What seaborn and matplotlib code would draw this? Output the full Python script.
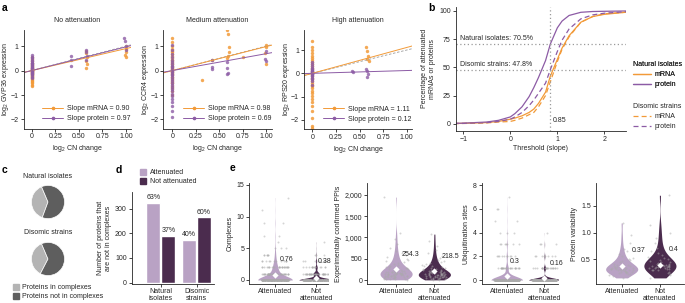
import numpy as np
import pandas as pd
import seaborn as sns
import matplotlib.pyplot as plt
from matplotlib.lines import Line2D
from matplotlib.patches import Patch

# ---------------- data ----------------
# a : expression vs copy number change (points at CN change 0, then the few aneuploid strains)
gvp_mrna_y0 = [-0.62, -0.58, -0.52, -0.47, -0.42, -0.38, -0.34, -0.3, -0.27, -0.24, -0.21, -0.18, -0.15, -0.12,
               -0.1, -0.07, -0.05, -0.03, -0.01, 0.01, 0.03, 0.05, 0.08, 0.11, 0.14, 0.18, 0.22, 0.27, 0.33,
               0.4, 0.48, 0.55]
gvp_prot_y0 = [-0.32, -0.25, -0.2, -0.15, -0.11, -0.08, -0.05, -0.02, 0.0, 0.03, 0.06, 0.09, 0.12, 0.15, 0.18,
               0.21, 0.25, 0.29, 0.33, 0.38, 0.44, 0.5, 0.57, 0.65]
gvp_mrna_x = [0.58, 0.58, 0.59, 0.58, 0.59, 0.58, 1.0, 1.0, 1.0, 0.99, 1.0]
gvp_mrna_y = [0.82, 0.7, 0.55, 0.4, 0.25, 0.12, 1.0, 0.9, 0.78, 0.65, 0.56]
gvp_prot_x = [0.42, 0.42, 0.42, 0.58, 0.58, 0.59, 0.58, 0.98, 0.99, 1.0, 1.0]
gvp_prot_y = [0.6, 0.42, 0.2, 0.85, 0.75, 0.6, 0.45, 1.33, 1.22, 1.0, 0.85]

ccr_mrna_y0 = [-1.0, -0.85, -0.72, -0.62, -0.52, -0.45, -0.38, -0.32, -0.26, -0.2, -0.15, -0.1, -0.05, 0.0,
               0.05, 0.1, 0.15, 0.2, 0.26, 0.32, 0.38, 0.45, 0.52, 0.6, 0.68, 0.75, 0.82, 0.9, 1.0, 1.15, 1.35]
ccr_prot_y0 = [-1.9, -1.65, -1.45, -1.3, -1.18, -1.05, -0.95, -0.85, -0.75, -0.66, -0.58, -0.5, -0.42, -0.35,
               -0.28, -0.2, -0.13, -0.06, 0.0, 0.06, 0.13, 0.2, 0.28, 0.36, 0.45, 0.55, 0.68, 0.85, 1.05]
ccr_mrna_x = [0.32, 0.42, 0.58, 0.59, 0.6, 0.6, 0.59, 0.58, 0.75, 1.0, 1.0, 0.99, 1.0]
ccr_mrna_y = [-0.37, 0.45, 1.65, 1.5, 0.98, 0.75, 0.6, 0.5, 0.55, 1.05, 0.98, 0.7, 0.25]
ccr_prot_x = [0.42, 0.42, 0.42, 0.58, 0.58, 0.59, 0.58, 1.0, 0.99, 1.0]
ccr_prot_y = [0.42, 0.15, 0.05, 0.35, 0.12, -0.08, -0.12, 0.82, 0.48, 0.38]

rps_mrna_y0 = [-2.35, -2.25, -1.9, -1.6, -1.4, -1.25, -1.1, -0.98, -0.86, -0.75, -0.65, -0.56, -0.48, -0.4,
               -0.32, -0.25, -0.18, -0.11, -0.05, 0.0, 0.06, 0.12, 0.18, 0.25, 0.32, 0.4, 0.48, 0.56, 0.65,
               0.75, 0.86, 1.0, 1.15, 1.4]
rps_prot_y0 = [-0.5, -0.35, -0.25, -0.18, -0.12, -0.08, -0.05, -0.02, 0.0, 0.02, 0.05, 0.08, 0.11, 0.15, 0.2,
               0.25, 0.32, 0.4, 0.5]
rps_mrna_x = [0.57, 0.58, 0.59, 0.58, 0.6]
rps_mrna_y = [1.15, 0.95, 0.75, 0.62, 0.55]
rps_prot_x = [0.42, 0.43, 0.57, 0.58, 0.59, 0.58]
rps_prot_y = [0.1, 0.05, 0.2, 0.1, -0.05, -0.15]

a_titles = ['No attenuation', 'Medium attenuation', 'High attenuation']
a_genes = ['GVP36', 'CCR4', 'RPS20']
slopes_mrna = [0.90, 0.98, 1.11]
slopes_prot = [0.97, 0.69, 0.12]

# b : cumulative share of attenuated mRNAs / proteins by slope threshold
b_thr = [-1.2, -1.0, -0.5, -0.25, 0.0, 0.1, 0.25, 0.4, 0.5, 0.6, 0.75, 0.85, 1.0, 1.1, 1.25, 1.5, 1.75, 2.0, 2.5]
nat_prot = [0.3, 0.5, 1.5, 3, 6, 9, 15, 24, 32, 41, 56, 70.5, 85, 91, 96, 98.8, 99.5, 99.7, 100]
nat_mrna = [0.2, 0.3, 1, 2, 4, 5, 7, 10, 13, 18, 28, 42, 57, 67, 78, 90, 95, 97, 99]
dis_prot = [0.2, 0.3, 1, 2, 4, 6, 10, 16, 21, 27, 36, 47.8, 64, 74, 84, 93, 96.5, 98, 99.5]
dis_mrna = [0.1, 0.2, 0.7, 1.5, 2, 3, 5, 8, 10, 15, 25, 37, 55, 66, 77, 90, 95, 97.5, 99]
b_threshold = 0.85
b_nat_pct = 70.5
b_dis_pct = 47.8

# c : share of proteins in complexes
pie_groups = ['Natural isolates', 'Disomic strains']
pie_in = [38, 36]
pie_not = [62, 64]

# d : proteins not in complexes
d_groups = ['Natural\nisolates', 'Disomic\nstrains']
d_att = [325, 175]
d_not = [190, 265]
d_pct_att = ['63%', '40%']
d_pct_not = ['37%', '60%']

# e : protein features
status = ['Attenuated', 'Not\nattenuated']
cx_vals_att = [0, 1, 2, 3, 4, 5, 6, 7, 9, 11, 13]
cx_n_att = [200, 40, 25, 12, 6, 3, 1, 2, 2, 1, 1]
cx_vals_not = [0, 1, 2, 3, 4, 5, 6]
cx_n_not = [220, 38, 14, 7, 3, 1, 1]
ppi_att = [5, 12, 20, 28, 35, 42, 50, 58, 65, 72, 80, 88, 95, 102, 110, 118, 125, 132, 140, 148, 155, 162,
           170, 178, 185, 195, 205, 215, 225, 235, 248, 260, 272, 285, 300, 315, 330, 350, 370, 390, 415,
           440, 470, 500, 540, 580, 630, 690, 760, 850, 960, 1100, 1950, 30, 60, 85, 100, 115, 130, 145,
           160, 175, 190, 210, 230, 90, 120, 150, 180, 75, 105, 135, 165]
ppi_not = [3, 10, 18, 25, 32, 40, 48, 55, 62, 70, 78, 85, 92, 100, 108, 115, 122, 130, 138, 145, 152, 160,
           168, 175, 183, 190, 198, 206, 215, 224, 233, 243, 254, 266, 278, 290, 305, 320, 338, 356, 375,
           398, 420, 450, 480, 520, 570, 630, 700, 800, 920, 1080, 20, 45, 65, 80, 95, 110, 125, 140, 155,
           170, 185, 200, 60, 90, 120, 150]
ub_vals_att = [0, 1, 2, 3, 4, 5, 6, 7]
ub_n_att = [290, 25, 10, 7, 3, 2, 2, 1]
ub_vals_not = [0, 1, 2, 3, 4]
ub_n_not = [290, 22, 8, 3, 1]
var_att = [0.15, 0.18, 0.2, 0.22, 0.23, 0.24, 0.25, 0.26, 0.27, 0.28, 0.28, 0.29, 0.3, 0.3, 0.31, 0.31, 0.32,
           0.32, 0.33, 0.33, 0.34, 0.35, 0.35, 0.36, 0.37, 0.38, 0.39, 0.4, 0.41, 0.42, 0.44, 0.46, 0.48,
           0.5, 0.53, 0.56, 0.6, 0.65, 0.7, 0.8, 0.95, 1.18, 0.26, 0.27, 0.29, 0.3, 0.31, 0.33]
var_not = [0.15, 0.2, 0.23, 0.25, 0.27, 0.29, 0.3, 0.31, 0.32, 0.33, 0.34, 0.35, 0.35, 0.36, 0.37, 0.37, 0.38,
           0.39, 0.4, 0.4, 0.41, 0.42, 0.43, 0.44, 0.45, 0.46, 0.48, 0.5, 0.52, 0.55, 0.58, 0.62, 0.66,
           0.72, 0.8, 0.9, 1.0, 1.15, 1.7, 0.3, 0.33, 0.36, 0.38, 0.42]
e_means = [[0.76, 0.38], [254.3, 218.5], [0.3, 0.16], [0.37, 0.4]]

# ---------------- style ----------------
ORANGE = '#F29A38'
PURPLE = '#8C5BA5'
LIGHT = '#B9A2C4'
DARK = '#4B2C4E'
GREY_L = '#B4B4B4'
GREY_D = '#5E5E5E'
TXT = '#262626'
FS = 5.0

sns.set_theme(style='ticks')
plt.rcParams['font.family'] = ['Liberation Sans', 'DejaVu Sans']
plt.rcParams.update({
    'font.size': FS, 'axes.labelsize': FS, 'xtick.labelsize': FS, 'ytick.labelsize': FS,
    'axes.linewidth': 0.6, 'xtick.major.width': 0.6, 'ytick.major.width': 0.6,
    'xtick.major.size': 2, 'ytick.major.size': 2, 'xtick.major.pad': 1.5, 'ytick.major.pad': 1.5,
    'axes.labelpad': 2, 'text.color': TXT, 'axes.labelcolor': TXT, 'axes.edgecolor': TXT,
    'xtick.color': TXT, 'ytick.color': TXT, 'mathtext.fontset': 'custom',
    'mathtext.rm': 'Liberation Sans', 'mathtext.it': 'Liberation Sans', 'legend.fontsize': FS,
})

W, H = 685, 303
fig = plt.figure(figsize=(W / 100, H / 100), dpi=100)


def box(l, t, r, b):
    return [l / W, 1 - b / H, (r - l) / W, (b - t) / H]


for letter, x, y in [('a', 2, 3), ('b', 428, 3), ('c', 2, 165), ('d', 116, 165), ('e', 230, 163)]:
    fig.text(x / W, 1 - y / H, letter, fontsize=7.5, fontweight='bold', va='top', ha='left', color='black')

# ---------------- a ----------------
a_px = [(23.5, 30, 131, 128.5), (163.3, 30, 272, 128.5), (304, 30, 412, 129)]
a_xlims = [(-0.087, 1.053), (-0.096, 1.064), (-0.088, 1.056)]
a_ylims = [(-2.37, 1.66), (-2.37, 1.66), (-2.39, 1.86)]
a_sets = [
    (gvp_mrna_y0, gvp_prot_y0, gvp_mrna_x, gvp_mrna_y, gvp_prot_x, gvp_prot_y),
    (ccr_mrna_y0, ccr_prot_y0, ccr_mrna_x, ccr_mrna_y, ccr_prot_x, ccr_prot_y),
    (rps_mrna_y0, rps_prot_y0, rps_mrna_x, rps_mrna_y, rps_prot_x, rps_prot_y),
]
for i in range(3):
    ax = fig.add_axes(box(*a_px[i]))
    m0, p0, mx, my, px, py = a_sets[i]
    mrna = pd.DataFrame({'x': [0.0] * len(m0) + mx, 'y': m0 + my})
    prot = pd.DataFrame({'x': [0.0] * len(p0) + px, 'y': p0 + py})
    sns.scatterplot(data=mrna, x='x', y='y', ax=ax, color=ORANGE, s=6, linewidth=0, alpha=0.85)
    sns.scatterplot(data=prot, x='x', y='y', ax=ax, color=PURPLE, s=6, linewidth=0, alpha=0.8)
    x0, x1 = a_xlims[i]
    xs = [max(x0, -0.1), x1]
    ax.plot(xs, xs, color='#9a9a9a', lw=0.6, ls=(0, (3, 2)), zorder=1)
    ax.plot(xs, [slopes_mrna[i] * v for v in xs], color=ORANGE, lw=0.7)
    ax.plot(xs, [slopes_prot[i] * v for v in xs], color=PURPLE, lw=0.7)
    ax.set_xlim(x0, x1)
    ax.set_ylim(*a_ylims[i])
    ax.set_xticks([0, 0.25, 0.5, 0.75, 1.0], ['0', '0.25', '0.50', '0.75', '1.00'])
    ax.set_yticks([-2, -1, 0, 1])
    ax.set_xlabel('log$_2$ CN change')
    ax.set_ylabel('log$_2$ ' + a_genes[i] + ' expression')
    ax.yaxis.set_label_coords(-12 / (a_px[i][2] - a_px[i][0]), 0.5)
    ax.set_title(a_titles[i], fontsize=FS, pad=6)
    handles = [Line2D([0], [0], color=ORANGE, lw=0.7, marker='o', ms=1.6),
               Line2D([0], [0], color=PURPLE, lw=0.7, marker='o', ms=1.6)]
    ax.legend(handles, [f'Slope mRNA = {slopes_mrna[i]:.2f}', f'Slope protein = {slopes_prot[i]:.2f}'],
              loc='lower right', frameon=False, handlelength=3.0, handletextpad=0.5,
              borderaxespad=0.2, labelspacing=0.45, bbox_to_anchor=(1.03, 0.02))
    sns.despine(ax=ax)

# ---------------- b ----------------
axb = fig.add_axes(box(455.7, 7, 626, 130.7))
b_curves = [(nat_mrna, ORANGE, '-'), (nat_prot, PURPLE, '-'),
            (dis_mrna, ORANGE, (0, (4, 2.5))), (dis_prot, PURPLE, (0, (4, 2.5)))]
for vals, col, ls in b_curves:
    sns.lineplot(x=b_thr, y=vals, ax=axb, color=col, linestyle=ls, lw=0.9)
axb.axvline(b_threshold, color='#9a9a9a', lw=0.9, ls=(0, (1, 2)))
axb.axhline(b_nat_pct, color='#9a9a9a', lw=0.9, ls=(0, (1, 2)))
axb.axhline(b_dis_pct, color='#9a9a9a', lw=0.9, ls=(0, (1, 2)))
axb.text(-1.07, b_nat_pct + 2, f'Natural isolates: {b_nat_pct}%', va='bottom', ha='left')
axb.text(-1.07, b_dis_pct + 2, f'Disomic strains: {b_dis_pct}%', va='bottom', ha='left')
axb.text(b_threshold + 0.06, 3, f'{b_threshold}', va='center', ha='left')
axb.set_xlim(-1.16, 2.46)
axb.set_ylim(-6.2, 103.5)
axb.set_xticks([-1, 0, 1, 2])
axb.set_yticks([0, 25, 50, 75, 100])
axb.set_xlabel('Threshold (slope)')
axb.set_ylabel('Percentage of attenuated\nmRNAs or proteins')
sns.despine(ax=axb)

leg1 = fig.legend([Line2D([0], [0], color=ORANGE, lw=0.9), Line2D([0], [0], color=PURPLE, lw=0.9)],
                  ['mRNA', 'protein'], title='Natural isolates', title_fontsize=FS, loc='upper left',
                  bbox_to_anchor=(627 / W, 1 - 55 / H), frameon=False, handlelength=2.6,
                  handletextpad=0.5, labelspacing=0.45, alignment='left')
fig.legend([Line2D([0], [0], color=ORANGE, lw=0.9, ls=(0, (4, 2.5))),
            Line2D([0], [0], color=PURPLE, lw=0.9, ls=(0, (4, 2.5)))],
           ['mRNA', 'protein'], title='Disomic strains', title_fontsize=FS, loc='upper left',
           bbox_to_anchor=(627 / W, 1 - 97 / H), frameon=False, handlelength=2.6,
           handletextpad=0.5, labelspacing=0.45, alignment='left')
fig.add_artist(leg1)

# ---------------- c ----------------
for i, (t, b_) in enumerate([(185, 219), (242, 276)]):
    axp = fig.add_axes(box(31, t, 65, b_))
    axp.pie([pie_in[i], pie_not[i]], colors=[GREY_L, GREY_D], startangle=113, counterclock=True,
            radius=1.22, wedgeprops=dict(edgecolor='white', linewidth=0.5))
    axp.set_aspect('equal')
    fig.text(48 / W, 1 - (t - 9) / H, pie_groups[i], ha='center', va='center', fontsize=FS)
fig.legend([Patch(color=GREY_L), Patch(color=GREY_D)], ['Proteins in complexes', 'Proteins not in complexes'],
           loc='upper left', bbox_to_anchor=(10 / W, 1 - 281 / H), frameon=False, handlelength=0.9,
           handleheight=0.9, handletextpad=0.5, labelspacing=0.25, borderaxespad=0)

# ---------------- d ----------------
axd = fig.add_axes(box(131.7, 192, 214, 284.3))
ddf = pd.DataFrame({'group': d_groups * 2, 'count': d_att + d_not,
                    'status': ['Attenuated'] * 2 + ['Not attenuated'] * 2})
sns.barplot(data=ddf, x='group', y='count', hue='status', palette=[LIGHT, DARK], width=0.84, gap=0.06,
            ax=axd, legend=False, saturation=1)
axd.bar_label(axd.containers[0], labels=d_pct_att, padding=1, fontsize=FS)
axd.bar_label(axd.containers[1], labels=d_pct_not, padding=1, fontsize=FS)
axd.set_xlim(-0.815, 1.49)
axd.set_ylim(-7, 368)
axd.set_yticks([0, 100, 200, 300])
axd.set_xlabel('')
axd.set_ylabel('Number of proteins that\nare not in complexes')
axd.tick_params(axis='x', pad=1)
for lab in axd.get_xticklabels():
    lab.set_linespacing(0.95)
sns.despine(ax=axd)
fig.legend([Patch(color=LIGHT), Patch(color=DARK)], ['Attenuated', 'Not attenuated'], loc='upper left',
           bbox_to_anchor=(137 / W, 1 - 166 / H), frameon=False, handlelength=0.9, handleheight=0.9,
           handletextpad=0.5, labelspacing=0.25, borderaxespad=0)

# ---------------- e ----------------
e_data = [
    (list(np.repeat(cx_vals_att, cx_n_att)), list(np.repeat(cx_vals_not, cx_n_not))),
    (ppi_att, ppi_not),
    (list(np.repeat(ub_vals_att, ub_n_att)), list(np.repeat(ub_vals_not, ub_n_not))),
    (var_att, var_not),
]
e_ylabels = ['Complexes', 'Experimentally confirmed PPIs', 'Ubiquitination sites', 'Protein variability']
e_boxes = [box(249, 183, 328, 284.3), box(367, 183, 460, 284.3), box(481.7, 183, 558, 284.3),
           box(595.7, 183, 684, 284.3)]
e_xlims = [(-0.634, 1.29), (-0.76, 1.67), (-0.665, 1.36), (-0.68, 1.63)]
e_ylims = [(-0.68, 15.3), (-101, 2282), (-0.36, 8.19), (0.03, 1.93)]
e_yticks = [[0, 5, 10, 15], [0, 500, 1000, 1500, 2000], [0, 2, 4, 6, 8], [0.5, 1.0, 1.5]]
e_yticklabels = [None, ['0', '500', '1,000', '1,500', '2,000'], None, ['0.5', '1.0', '1.5']]
e_lab_pos = [[(0.12, 3.2), (1.05, 2.9)], [(0.14, 590), (1.2, 550)], [(0.09, 1.6), (1.15, 1.4)],
             [(0.26, 0.66), (1.22, 0.68)]]
for i in range(4):
    ax = fig.add_axes(e_boxes[i])
    att, nat = e_data[i]
    edf = pd.DataFrame({'status': [status[0]] * len(att) + [status[1]] * len(nat), 'value': att + nat})
    sns.violinplot(data=edf, x='status', y='value', hue='status', palette=[LIGHT, DARK], cut=0,
                   density_norm='width', inner=None, linewidth=0, width=0.84,
                   legend=False, ax=ax, saturation=1)
    sns.stripplot(data=edf, x='status', y='value', color='#aaaaaa', size=1.4, alpha=0.5, jitter=0.33,
                  linewidth=0, ax=ax, zorder=3)
    ax.scatter([0, 1], e_means[i], marker='D', s=10, color='white', linewidth=0, zorder=5)
    for j in range(2):
        lx, ly = e_lab_pos[i][j]
        ax.text(lx, ly, f'{e_means[i][j]:g}', ha='left', va='center', fontsize=FS, zorder=6)
    ax.set_xlim(*e_xlims[i])
    ax.set_ylim(*e_ylims[i])
    if e_yticklabels[i] is None:
        ax.set_yticks(e_yticks[i])
    else:
        ax.set_yticks(e_yticks[i], e_yticklabels[i])
    ax.set_xlabel('')
    ax.set_ylabel(e_ylabels[i])
    ax.tick_params(axis='x', pad=1)
    for lab in ax.get_xticklabels():
        lab.set_linespacing(0.95)
    sns.despine(ax=ax)

fig.savefig('out.png', dpi=100)
